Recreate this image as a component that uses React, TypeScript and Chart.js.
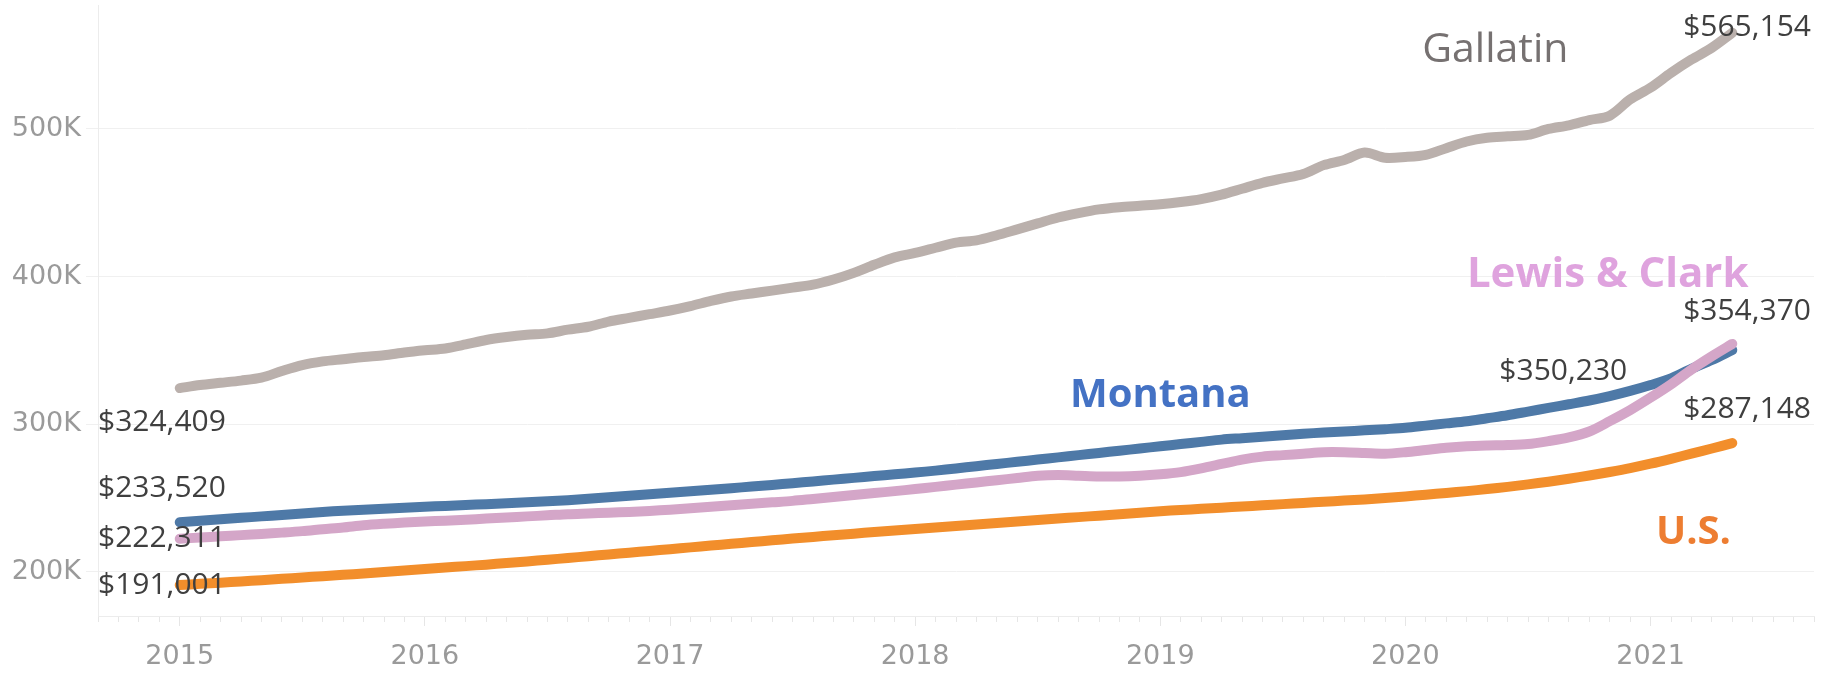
import React, { useEffect, useRef } from "react";
import { Chart, registerables } from "chart.js";

Chart.register(...registerables);

// Month index 0 = Jan 2015 ... 76 = May 2021. Values in thousands of dollars.
const FIRST_YEAR = 2015;
const YEAR_TICKS = [2015, 2016, 2017, 2018, 2019, 2020, 2021];
const Y_TICKS = [200, 300, 400, 500];

const gallatin = [
  324.409, 326.5, 328, 329.5, 331.5, 336, 340, 342.5, 344, 345.5, 346.7, 348.5,
  350, 351.3, 354, 357, 359, 360.5, 361.5, 364, 366, 369.5, 372, 374.5,
  377, 380, 383.5, 386.5, 388.5, 390.5, 392.5, 394.5, 398, 402.5, 408, 413,
  416, 419.5, 423, 424.5, 428, 432, 436, 440, 443, 445.5, 447, 448,
  449, 450.5, 452.5, 455.5, 459.5, 463.5, 466.5, 469.5, 475.5, 479, 484, 480.5,
  481, 482.5, 487, 491.5, 494, 495, 496, 500, 502.5, 506, 509, 520,
  528, 538, 547, 555, 565.154,
];

const montana = [
  233.52, 234.5, 235.5, 236.5, 237.5, 238.5, 239.5, 240.5, 241.3, 242.0, 242.7, 243.3,
  244.0, 244.6, 245.2, 245.8, 246.4, 247.0, 247.7, 248.5, 249.5, 250.5, 251.5, 252.5,
  253.5, 254.5, 255.5, 256.6, 257.7, 258.8, 260.0, 261.2, 262.4, 263.6, 264.8, 266.0,
  267.2, 268.5, 270.0, 271.5, 273.0, 274.5, 276.0, 277.5, 279.0, 280.5, 282.0, 283.5,
  285.0, 286.5, 288.0, 289.5, 290.5, 291.5, 292.5, 293.5, 294.3, 295.0, 295.8, 296.6,
  297.5, 299.0, 300.5, 302.0, 304.0, 306.0, 308.5, 311.0, 313.5, 316.0, 319.0, 322.5,
  326.5, 331.0, 337.5, 343.5, 350.23,
];

const lewisClark = [
  222.311, 223.2, 224.0, 224.8, 225.6, 226.5, 227.5, 228.8, 230.0, 231.5, 232.5, 233.3,
  234.0, 234.6, 235.2, 236.0, 236.8, 237.5, 238.2, 239.0, 239.5, 240.0, 240.5, 241.2,
  242.0, 243.0, 244.0, 245.0, 246.0, 247.0, 248.0, 249.3, 250.6, 252.0, 253.3, 254.6,
  256.0, 257.5, 259.0, 260.5, 262.0, 263.5, 265.0, 265.5, 265.0, 264.5, 264.5, 265.0,
  266.0, 267.5, 270.0, 273.0, 276.0, 278.0, 279.0, 280.0, 281.0, 281.0, 280.5, 280.0,
  281.0, 282.5, 284.0, 285.0, 285.5, 285.8, 286.5, 288.5, 291.0, 295.0, 302.0, 309.5,
  318.0, 327.0, 337.0, 346.0, 354.37,
];

const us = [
  191.001, 191.8, 192.6, 193.4, 194.3, 195.2, 196.1, 197.0, 197.9, 198.8, 199.8, 200.8,
  201.8, 202.8, 203.8, 204.8, 205.9, 207.0, 208.1, 209.3, 210.5, 211.7, 212.9, 214.1,
  215.3, 216.5, 217.7, 218.9, 220.1, 221.3, 222.5, 223.6, 224.7, 225.8, 226.9, 228.0,
  229.0, 230.0, 231.0, 232.0, 233.0, 234.0, 235.0, 236.0, 237.0, 238.0, 239.0, 240.0,
  241.0, 241.8, 242.6, 243.4, 244.2, 245.0, 245.8, 246.6, 247.4, 248.2, 249.0, 250.0,
  251.0, 252.2, 253.4, 254.6, 256.0, 257.5, 259.2, 261.0, 263.0, 265.2, 267.6, 270.2,
  273.2, 276.5, 280.0, 283.5, 287.148,
];

const SERIES = [
  { name: "Lewis & Clark", values: lewisClark, color: "#D4A6C8" },
  { name: "Montana", values: montana, color: "#4E79A7" },
  { name: "U.S.", values: us, color: "#F28E2B" },
  { name: "Gallatin", values: gallatin, color: "#BAB0AC" },
];

// Value labels: which series, first/last point, alignment and pixel offset from the point.
const VALUE_LABELS = [
  { series: "Gallatin", at: "first", align: "left", dx: 0, dy: 43 },
  { series: "Montana", at: "first", align: "left", dx: 0, dy: -25 },
  { series: "Lewis & Clark", at: "first", align: "left", dx: 0, dy: 8 },
  { series: "U.S.", at: "first", align: "left", dx: 0, dy: 9 },
  { series: "Gallatin", at: "last", align: "right", dx: 0, dy: 3 },
  { series: "Lewis & Clark", at: "last", align: "right", dx: 0, dy: -24 },
  { series: "U.S.", at: "last", align: "right", dx: 0, dy: -25 },
  { series: "Montana", at: "last", align: "center", dx: -169, dy: 30 },
];

// Series name annotations placed in data space (month index, value in K = text baseline).
const NAME_LABELS = [
  { text: "Gallatin", month: 64.4, value: 545.3, color: "#767171", weight: "400", size: 41 },
  { text: "Montana", month: 48.0, value: 311.5, color: "#4472C4", weight: "700", size: 40 },
  { text: "Lewis & Clark", month: 69.9, value: 392.8, color: "#DFA3DE", weight: "700", size: 42 },
  { text: "U.S.", month: 74.1, value: 218.7, color: "#ED7D31", weight: "700", size: 40 },
];

const fmtMoney = (k: number) => "$" + Math.round(k * 1000).toLocaleString("en-US");

const labelPlugin = {
  id: "annotLabels",
  afterDatasetsDraw(chart: any) {
    const ctx = chart.ctx as CanvasRenderingContext2D;
    const area = chart.chartArea;
    const xs = chart.scales.x;
    const ys = chart.scales.y;
    ctx.save();
    ctx.font = '400 30px "Open Sans"';
    ctx.fillStyle = "#3f3f3f";
    ctx.textBaseline = "alphabetic";
    for (const l of VALUE_LABELS) {
      const di = SERIES.findIndex((s) => s.name === l.series);
      const vals = SERIES[di].values;
      const idx = l.at === "first" ? 0 : vals.length - 1;
      const pt = chart.getDatasetMeta(di).data[idx];
      let x = pt.x + l.dx;
      if (l.align === "left") x = area.left;
      if (l.align === "right") x = area.right - 3;
      ctx.textAlign = l.align as CanvasTextAlign;
      ctx.fillText(fmtMoney(vals[idx]), x, pt.y + l.dy);
    }
    for (const n of NAME_LABELS) {
      ctx.font = `${n.weight} ${n.size}px "Open Sans"`;
      ctx.fillStyle = n.color;
      ctx.textAlign = "center";
      ctx.fillText(n.text, xs.getPixelForValue(n.month), ys.getPixelForValue(n.value * 1000));
    }
    ctx.restore();
  },
};

export default function App() {
  const ref = useRef<HTMLCanvasElement | null>(null);

  useEffect(() => {
    if (!ref.current) return;
    const chart = new Chart(ref.current, {
      type: "line",
      data: {
        datasets: SERIES.map((s) => ({
          label: s.name,
          data: s.values.map((v, i) => ({ x: i, y: v * 1000 })),
          borderColor: s.color,
          backgroundColor: s.color,
          borderWidth: 10,
          borderCapStyle: "round",
          borderJoinStyle: "round",
          pointRadius: 0,
          tension: 0.3,
          fill: false,
        })),
      },
      options: {
        responsive: false,
        animation: false,
        layout: { padding: { top: 5, right: 15, left: 0, bottom: 0 } },
        plugins: { legend: { display: false }, tooltip: { enabled: false } },
        scales: {
          x: {
            type: "linear",
            min: -4,
            max: 80,
            afterBuildTicks: (scale: any) => {
              const t: { value: number }[] = [];
              for (let m = scale.min; m <= scale.max; m++) t.push({ value: m });
              scale.ticks = t;
            },
            afterFit: (scale: any) => {
              scale.height = 57;
              scale.paddingLeft = 0;
              scale.paddingRight = 0;
            },
            ticks: {
              autoSkip: false,
              maxRotation: 0,
              padding: 15,
              color: "#9a9a9a",
              font: { family: "DejaVu Sans", size: 27 },
              callback: (v: any) => {
                const m = Number(v);
                if (m % 12 !== 0) return "";
                const yr = FIRST_YEAR + m / 12;
                return YEAR_TICKS.includes(yr) ? String(yr) : "";
              },
            },
            grid: {
              drawOnChartArea: false,
              drawTicks: true,
              tickLength: 10,
              tickColor: "#e6e6e6",
              tickBorderDash: (c: any) => (c.tick && c.tick.value % 12 === 0 ? [] : [5, 30]),
            },
            border: { display: true, color: "#ececec", width: 1 },
          },
          y: {
            min: 170000,
            max: 584000,
            afterBuildTicks: (scale: any) => {
              scale.ticks = Y_TICKS.map((v) => ({ value: v * 1000 }));
            },
            afterFit: (scale: any) => {
              scale.width = 98;
              scale.paddingTop = 0;
              scale.paddingBottom = 0;
            },
            ticks: {
              padding: 5,
              color: "#9a9a9a",
              font: { family: "DejaVu Sans", size: 27 },
              callback: (v: any) => Number(v) / 1000 + "K",
            },
            grid: {
              color: "#f0f0f0",
              lineWidth: 1,
              tickLength: 12,
              tickColor: "#f0f0f0",
            },
            border: { display: true, color: "#ececec", width: 1 },
          },
        },
      },
      plugins: [labelPlugin],
    } as any);
    return () => chart.destroy();
  }, []);

  return (
    <div style={{ position: "absolute", left: 0, top: 0, width: 1829, height: 673, background: "#fff" }}>
      <canvas ref={ref} width={1829} height={673} style={{ display: "block" }} />
    </div>
  );
}
